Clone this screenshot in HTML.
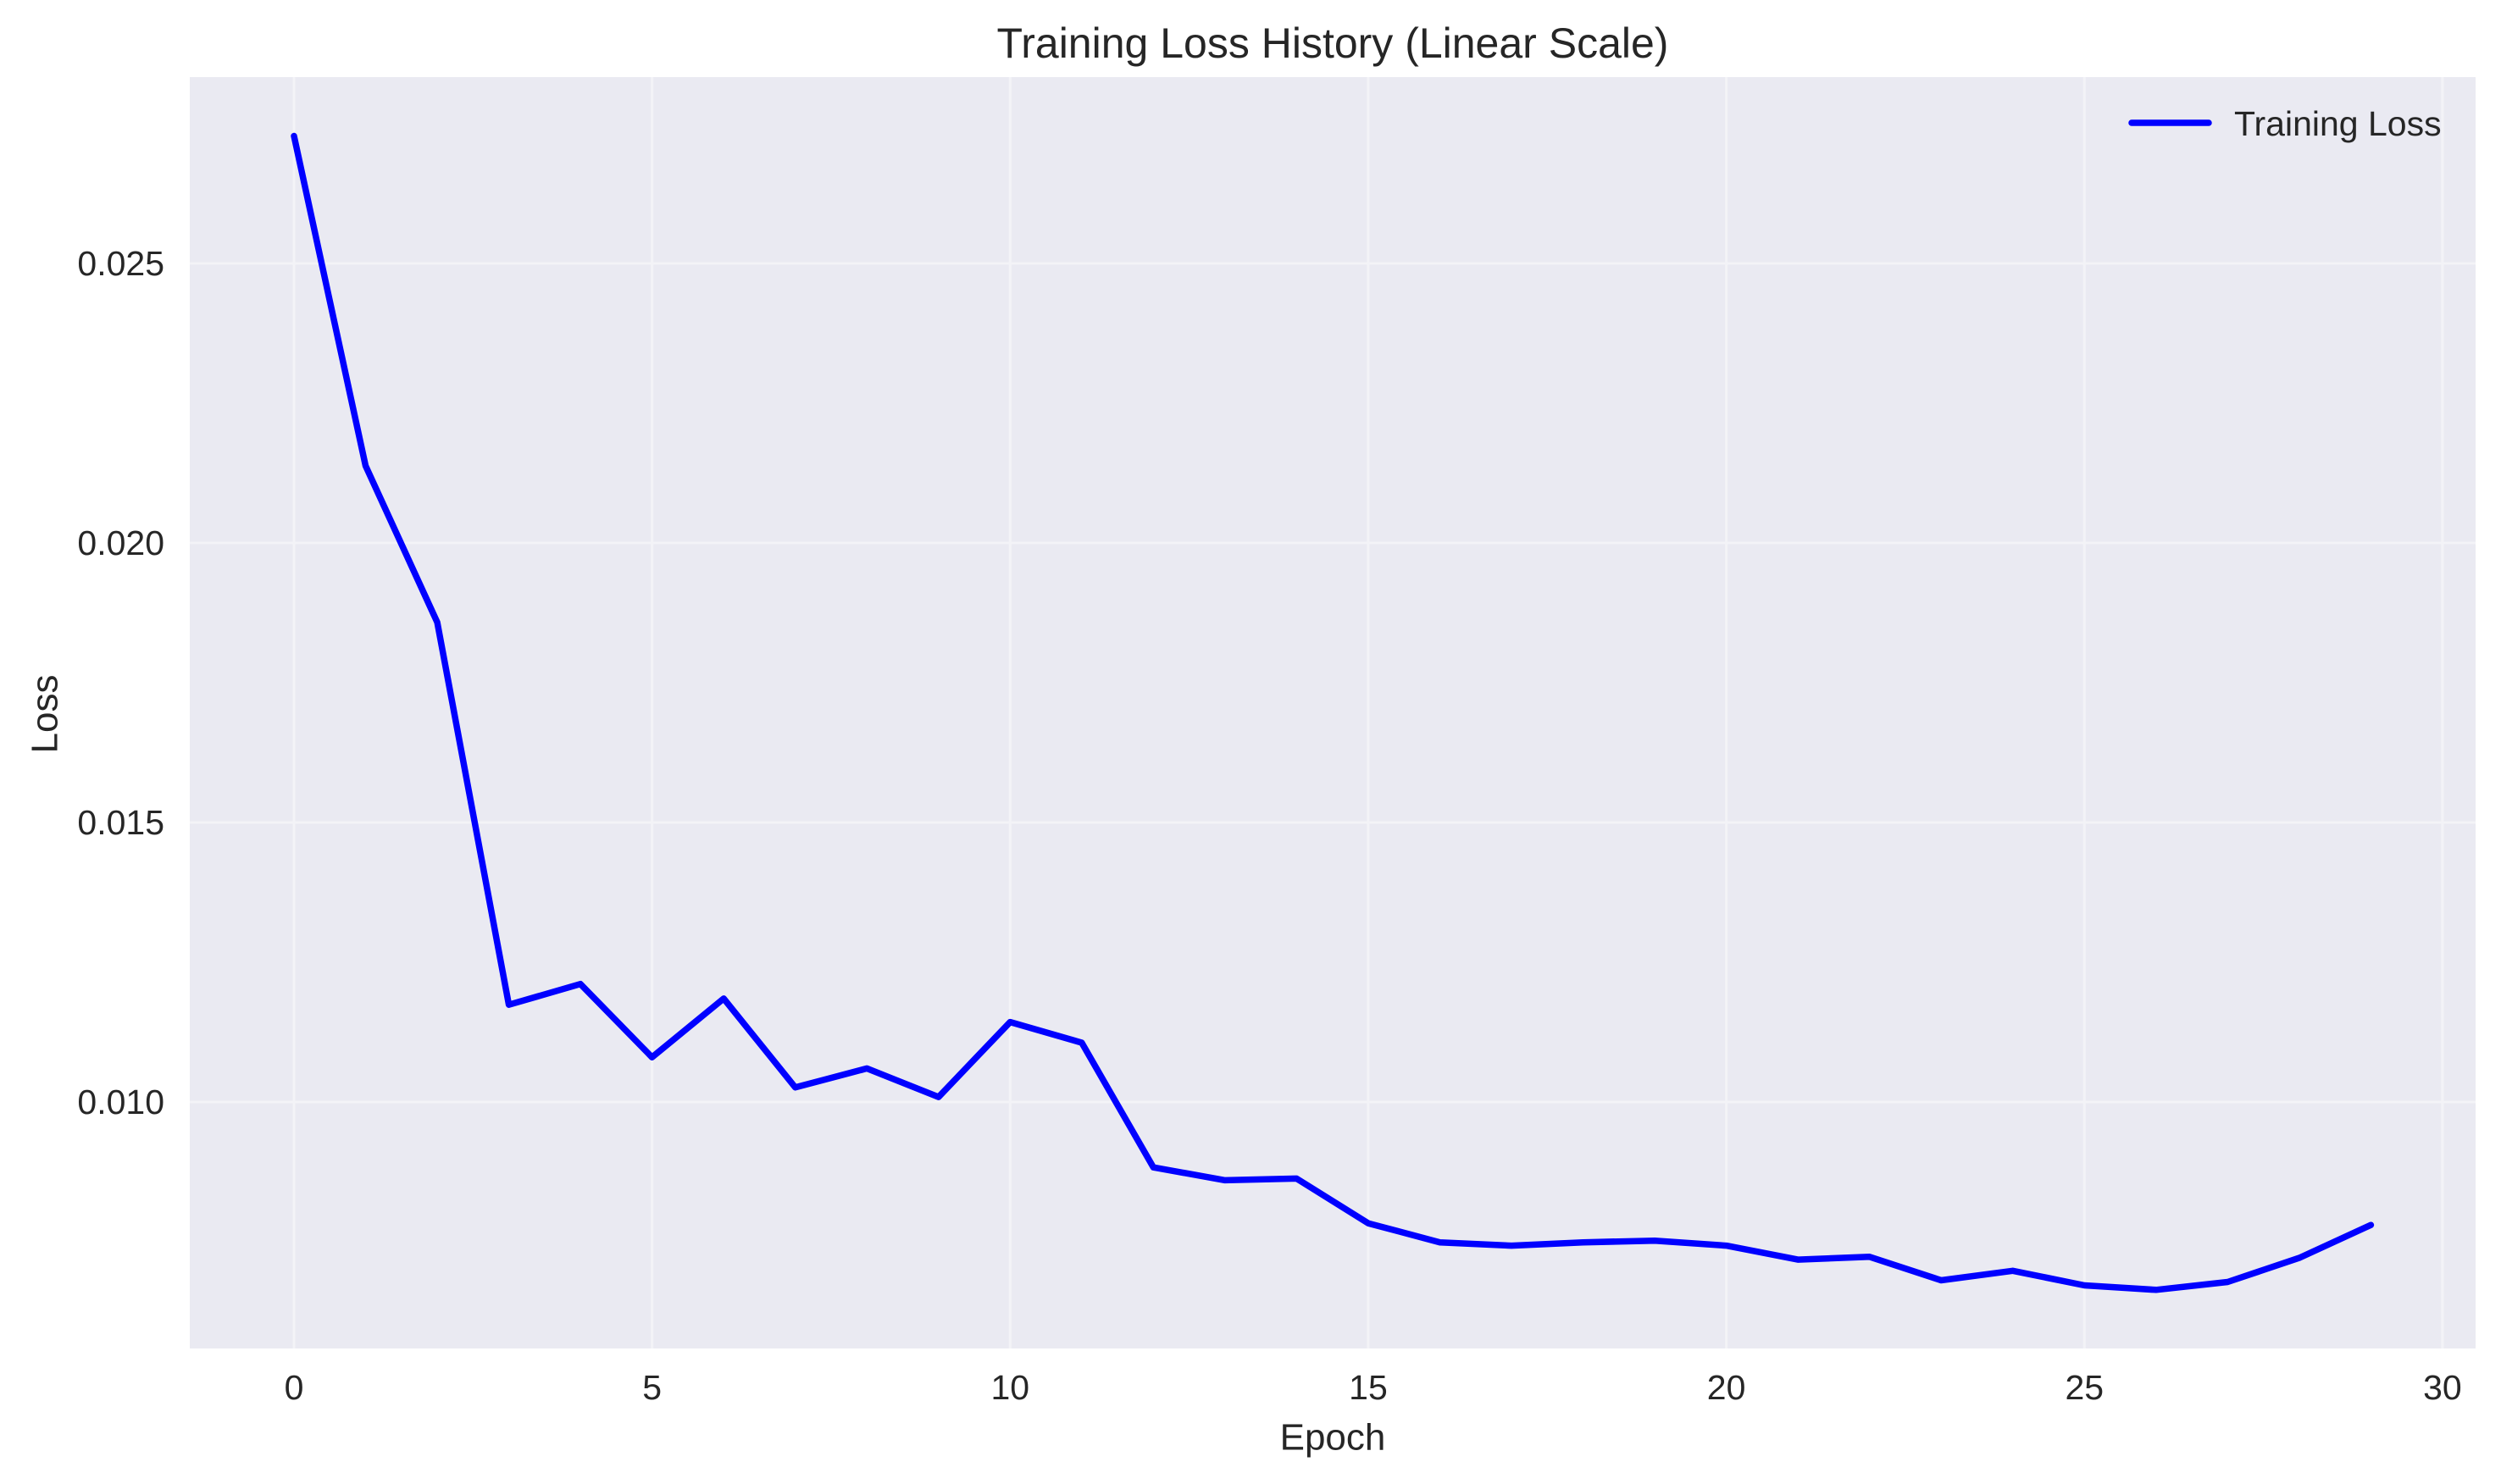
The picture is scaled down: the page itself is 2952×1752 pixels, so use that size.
<!DOCTYPE html>
<html><head><meta charset="utf-8"><style>
html,body{margin:0;padding:0;background:#fff;}
svg{display:block;font-family:"Liberation Sans",sans-serif;}
</style></head><body>
<svg id="chart" width="2952" height="1752" viewBox="0 0 2952 1752">
<text x="1573" y="51" font-size="50" fill="#262626" text-anchor="middle" dominant-baseline="central">Training Loss History (Linear Scale)</text>
<rect x="224" y="91" width="2698" height="1501" fill="#eaeaf2"/>
<g id="grid"></g>
<g id="ticks"></g>
<path id="line" fill="none" stroke="#0000ff" stroke-width="7.5" stroke-linejoin="round" stroke-linecap="round"/>
<text x="1573" y="1697" font-size="44" fill="#262626" text-anchor="middle" dominant-baseline="central">Epoch</text>
<text x="53" y="843" font-size="44" fill="#262626" text-anchor="middle" dominant-baseline="central" transform="rotate(-90 53 843)">Loss</text>
<g>
<line x1="2516" y1="145" x2="2607" y2="145" stroke="#0000ff" stroke-width="7.5" stroke-linecap="round"/>
<text x="2637" y="146" font-size="41" fill="#262626" dominant-baseline="central">Training Loss</text>
</g>
</svg>
<script>
const epochs = [0,1,2,3,4,5,6,7,8,9,10,11,12,13,14,15,16,17,18,19,20,21,22,23,24,25,26,27,28,29];
const lossValues = [0.02728,0.02138,0.01858,0.01174,0.01211,0.01080,0.01185,0.01026,0.01060,0.01009,0.01143,0.01106,0.00883,0.00860,0.00863,0.00783,0.00749,0.00743,0.00749,0.00752,0.00743,0.00718,0.00723,0.00681,0.00698,0.00672,0.00664,0.00678,0.00721,0.00780];
const xTicks = [0,5,10,15,20,25,30];
const yTicks = [0.010,0.015,0.020,0.025];
const yTickLabels = ["0.010","0.015","0.020","0.025"];

const NS = "http://www.w3.org/2000/svg";
function xs(v){ return 347 + v * 84.53; }
function ys(v){ return 311 + (0.025 - v) / 0.005 * 330; }

const grid = document.getElementById('grid');
const ticks = document.getElementById('ticks');
xTicks.forEach(t => {
  const l = document.createElementNS(NS,'line');
  l.setAttribute('x1', xs(t)); l.setAttribute('x2', xs(t));
  l.setAttribute('y1', 91); l.setAttribute('y2', 1592);
  l.setAttribute('stroke', '#f3f3f7'); l.setAttribute('stroke-width', '3');
  
  
  grid.appendChild(l);
  const tx = document.createElementNS(NS,'text');
  tx.setAttribute('x', xs(t)); tx.setAttribute('y', 1638);
  tx.setAttribute('font-size', '41'); tx.setAttribute('fill', '#262626');
  tx.setAttribute('text-anchor', 'middle'); tx.setAttribute('dominant-baseline', 'central');
  tx.textContent = String(t);
  
  
  ticks.appendChild(tx);
});
yTicks.forEach((t, i) => {
  const l = document.createElementNS(NS,'line');
  l.setAttribute('x1', 224); l.setAttribute('x2', 2922);
  l.setAttribute('y1', ys(t)); l.setAttribute('y2', ys(t));
  l.setAttribute('stroke', '#f3f3f7'); l.setAttribute('stroke-width', '3');
  
  
  grid.appendChild(l);
  const tx = document.createElementNS(NS,'text');
  tx.setAttribute('x', 194); tx.setAttribute('y', ys(t));
  tx.setAttribute('font-size', '41'); tx.setAttribute('fill', '#262626');
  tx.setAttribute('text-anchor', 'end'); tx.setAttribute('dominant-baseline', 'central');
  tx.textContent = yTickLabels[i];
  
  
  ticks.appendChild(tx);
});
let d = '';
epochs.forEach((e, i) => { d += (i ? 'L' : 'M') + xs(e).toFixed(1) + ' ' + ys(lossValues[i]).toFixed(1); });
document.getElementById('line').setAttribute('d', d);
</script>
</body></html>
